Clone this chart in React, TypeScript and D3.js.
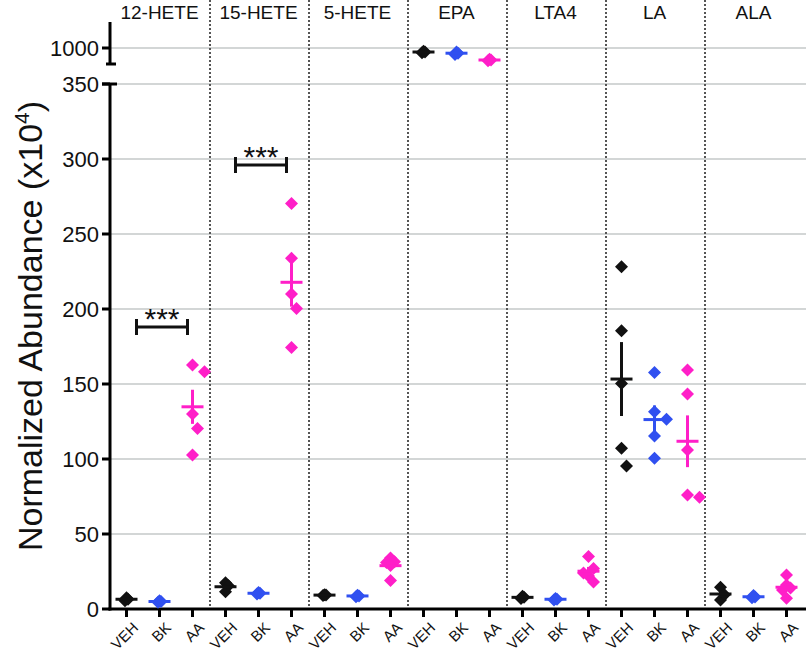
import * as d3 from 'd3';

const GROUPS = ['12-HETE', '15-HETE', '5-HETE', 'EPA', 'LTA4', 'LA', 'ALA'];
const TREATMENTS = ['VEH', 'BK', 'AA'];

// one list of replicate values per group, in GROUPS order
const VEH_VALUES = [
  [5.5, 7.5, 6.5],
  [17.5, 15.5, 11.5],
  [9, 9.5, 9.3],
  [988, 992, 990],
  [7, 8.5, 7.8],
  [228.2, 185.5, 150.4, 107.1, 95.3],
  [14.5, 6, 9.5],
];
const BK_VALUES = [
  [4.5, 5.5, 5],
  [10, 11, 10.5],
  [8.2, 9.2, 8.7],
  [984, 990, 987],
  [6, 7, 6.5],
  [157.6, 131.5, 126.5, 115.3, 100.5],
  [7.5, 9, 8],
];
const AA_VALUES = [
  [162.7, 158.2, 130, 120.4, 102.7],
  [270.4, 233.8, 210, 200.4, 174.4],
  [34, 31.5, 31, 29, 19],
  [968, 972, 970],
  [35, 27, 24, 22, 18],
  [159.3, 143.3, 106, 76, 74.5],
  [22.7, 16, 14, 12.7, 7.1],
];

const LOW_TICKS = [0, 50, 100, 150, 200, 250, 300, 350];
const HIGH_TICKS = [1000];

const SIGNIFICANCE = [
  { group: '12-HETE', value: 188, label: '***' },
  { group: '15-HETE', value: 296, label: '***' },
];

const COLORS: Record<string, string> = { VEH: '#111111', BK: '#3050f0', AA: '#ff1fc8' };
const FONT = '"Liberation Sans", Arial, Helvetica, sans-serif';

const W = 806;
const H = 653;
const AXIS_X = 110;
const AXIS_Y = 609;
const R = 6.5; // diamond half-diagonal

const yLow = d3.scaleLinear().domain([0, 350]).range([AXIS_Y, 84]);
const yHigh = d3.scaleLinear().domain([960, 1065]).range([64, 22]);
const yFor = (v: number) => (v > 500 ? yHigh(v) : yLow(v));

const cats = GROUPS.flatMap(g => TREATMENTS.map(t => `${g}|${t}`));
const x = d3.scaleBand().domain(cats).range([AXIS_X, 803]).padding(0);
const xc = (g: string, t: string) => (x(`${g}|${t}`) ?? 0) + x.bandwidth() / 2;

// column dodge: tight columns stay stacked, spread-out ones fan sideways
function dodge(vals: number[]): number[] {
  const ys = vals.map(yFor);
  const spread = (d3.max(ys)! - d3.min(ys)!);
  const maxOff = Math.min(12, Math.max(1.5, spread / 3));
  const wide = maxOff >= 8;
  const cands = (wide ? [0, 5, -5, 10, -10, 12, -12] : [0, 4, -4, 8, -8]).filter(c => Math.abs(c) <= maxOff);
  if (maxOff < 4) cands.push(maxOff, -maxOff);
  const minD = wide ? 18 : 8;
  const order = d3.range(vals.length).sort((a, b) => vals[b] - vals[a]);
  const placed: { dx: number; y: number }[] = [];
  const out = new Array(vals.length).fill(0);
  order.forEach(i => {
    const y = ys[i];
    let best = 0;
    let bestScore = -Infinity;
    for (const c of cands) {
      const d = placed.length ? d3.min(placed, p => Math.abs(c - p.dx) + Math.abs(y - p.y))! : Infinity;
      if (d >= minD) { best = c; break; }
      if (d > bestScore) { bestScore = d; best = c; }
    }
    placed.push({ dx: best, y });
    out[i] = best;
  });
  return out;
}

const diamond = (cx: number, cy: number) =>
  `M${cx},${cy - R}L${cx + R},${cy}L${cx},${cy + R}L${cx - R},${cy}Z`;

export default function App() {
  const valuesFor = (t: string) => (t === 'VEH' ? VEH_VALUES : t === 'BK' ? BK_VALUES : AA_VALUES);

  return (
    <svg width={W} height={H} style={{ position: 'absolute', left: 0, top: 0, background: '#fff' }} fontFamily={FONT}>
      {/* Grid */}
      {[...LOW_TICKS.filter(t => t > 0).map(t => yLow(t)), ...HIGH_TICKS.map(t => yHigh(t))].map((yy, i) => (
        <line key={i} x1={AXIS_X} x2={W} y1={yy} y2={yy} stroke="#c4c9c9" strokeWidth={1.5} />
      ))}

      {/* Group separators */}
      {GROUPS.slice(1).map(g => {
        const sx = (x(`${g}|VEH`) ?? 0) + 1;
        return <line key={g} x1={sx} x2={sx} y1={0} y2={AXIS_Y} stroke="#555" strokeWidth={2} strokeDasharray="2 2" />;
      })}

      {/* Group headers */}
      {GROUPS.map(g => (
        <text key={g} x={xc(g, 'BK')} y={19} textAnchor="middle" fontSize={19} fill="#111">{g}</text>
      ))}

      {/* Y axis, broken */}
      <line x1={AXIS_X} x2={AXIS_X} y1={84} y2={AXIS_Y + 1.5} stroke="#000" strokeWidth={3} />
      <line x1={AXIS_X - 8} x2={AXIS_X + 7} y1={84} y2={84} stroke="#000" strokeWidth={3} />
      <line x1={AXIS_X} x2={AXIS_X} y1={22} y2={64} stroke="#000" strokeWidth={3} />
      <line x1={AXIS_X - 4} x2={AXIS_X + 6} y1={64} y2={64} stroke="#000" strokeWidth={3} />
      {LOW_TICKS.map(t => (
        <g key={t}>
          <line x1={AXIS_X - 8} x2={AXIS_X} y1={yLow(t)} y2={yLow(t)} stroke="#000" strokeWidth={3} />
          <text x={AXIS_X - 11} y={yLow(t)} dy="0.36em" textAnchor="end" fontSize={22} fill="#111">{t}</text>
        </g>
      ))}
      {HIGH_TICKS.map(t => (
        <g key={t}>
          <line x1={AXIS_X - 8} x2={AXIS_X} y1={yHigh(t)} y2={yHigh(t)} stroke="#000" strokeWidth={3} />
          <text x={AXIS_X - 11} y={yHigh(t)} dy="0.36em" textAnchor="end" fontSize={22} fill="#111">{t}</text>
        </g>
      ))}
      <text transform={`translate(42,326) rotate(-90)`} textAnchor="middle" fontSize={34} fill="#111">
        Normalized Abundance (x10<tspan dy={-13} fontSize={21}>4</tspan><tspan dy={13}>)</tspan>
      </text>

      {/* X axis */}
      <line x1={AXIS_X - 1.5} x2={W} y1={AXIS_Y} y2={AXIS_Y} stroke="#000" strokeWidth={3} />
      {GROUPS.flatMap(g => TREATMENTS.map(t => {
        const cx = xc(g, t);
        return (
          <g key={`${g}-${t}`}>
            <line x1={cx} x2={cx} y1={AXIS_Y} y2={AXIS_Y + 8} stroke="#000" strokeWidth={3} />
            <text transform={`translate(${cx + 5},${AXIS_Y + 12}) rotate(-45)`} textAnchor="end" dy="0.72em" fontSize={15} fill="#111">{t}</text>
          </g>
        );
      }))}

      {/* Points, mean and SEM */}
      {GROUPS.flatMap((g, gi) => TREATMENTS.map(t => {
        const vals = valuesFor(t)[gi];
        const cx = xc(g, t);
        const offs = dodge(vals);
        const mean = d3.mean(vals)!;
        const sem = (d3.deviation(vals) ?? 0) / Math.sqrt(vals.length);
        const color = COLORS[t];
        return (
          <g key={`${g}-${t}-pts`}>
            {vals.map((v, i) => (
              <path key={i} d={diamond(cx + offs[i], yFor(v))} fill={color} />
            ))}
            <line x1={cx} x2={cx} y1={yFor(mean + sem)} y2={yFor(mean - sem)} stroke={color} strokeWidth={3} />
            <line x1={cx - 11} x2={cx + 11} y1={yFor(mean)} y2={yFor(mean)} stroke={color} strokeWidth={3} />
          </g>
        );
      }))}

      {/* Significance brackets */}
      {SIGNIFICANCE.map(s => {
        const x1 = xc(s.group, 'VEH') + 10;
        const x2 = xc(s.group, 'AA') - 5;
        const yy = yLow(s.value);
        return (
          <g key={s.group} stroke="#111" strokeWidth={3}>
            <line x1={x1} x2={x2} y1={yy} y2={yy} />
            <line x1={x1} x2={x1} y1={yy - 8} y2={yy + 8} />
            <line x1={x2} x2={x2} y1={yy - 8} y2={yy + 8} />
            <text x={(x1 + x2) / 2} y={yy + 2} textAnchor="middle" fontSize={30} stroke="none" fill="#111">{s.label}</text>
          </g>
        );
      })}
    </svg>
  );
}
